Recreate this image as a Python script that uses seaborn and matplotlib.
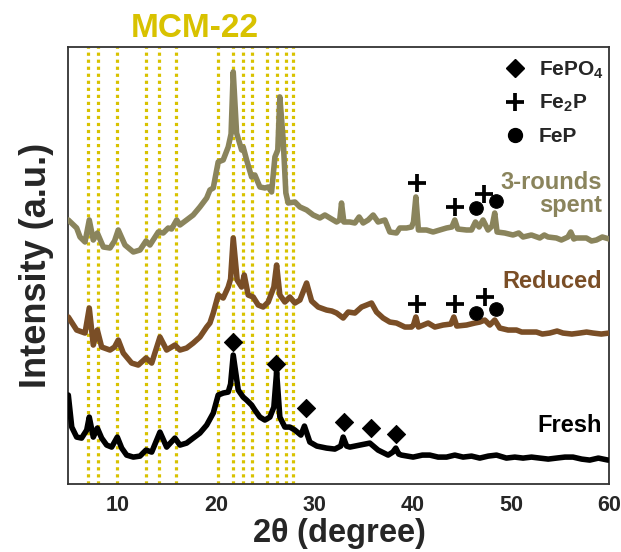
import matplotlib
matplotlib.use("Agg")
import matplotlib.pyplot as plt
from matplotlib.lines import Line2D
from matplotlib.ticker import FixedLocator
import seaborn as sns

# ---------------- data ----------------
mcm22_peaks = [7.03, 7.99, 9.98, 12.87, 14.19, 15.91, 20.21, 21.77,
               22.75, 23.67, 25.16, 26.24, 27.09, 27.87]

spent_2t = [5.0, 5.85, 6.19, 6.70, 7.13, 7.54, 7.95, 8.56, 9.24, 9.7, 10.08, 10.76, 11.61,
            12.29, 12.90, 13.30, 14.15, 14.65, 15.16, 15.5, 16.02, 16.35, 17.03, 17.70, 18.38,
            19.07, 19.40, 19.74, 20.24, 20.75, 21.26, 21.55, 21.77, 22.11, 22.62, 22.78,
            23.13, 23.64, 23.97, 24.48, 24.99, 25.33, 25.67, 26.01, 26.30, 26.51, 26.85,
            27.12, 27.36, 28.04, 28.55, 29.23, 29.90, 30.58, 31.09, 31.60, 32.28, 32.6,
            32.78, 33.02, 33.63, 34.14, 34.57, 34.98, 35.49, 36.0, 36.50, 37.19, 37.69,
            38.37, 38.71, 39.39, 39.90, 40.1, 40.34, 40.6, 41.42, 42.09, 42.77, 43.46,
            44.0, 44.30, 44.6, 45.49, 46.0, 46.40, 46.77, 47.17, 47.68, 48.1, 48.36, 48.6,
            49.38, 50.22, 50.8, 51.24, 52.09, 52.94, 53.4, 53.78, 54.63, 55.14, 55.8,
            56.09, 56.4, 56.67, 57.68, 58.2, 58.70, 59.3, 60.0]
spent_int = [264, 256, 247, 242, 264, 244, 251, 237, 236, 243, 254, 239, 232,
             234, 243, 239, 252, 251, 256, 255, 264, 259, 264, 269, 277,
             286, 294, 296, 322, 324, 337, 350, 412, 351, 334, 337,
             324, 307, 309, 297, 296, 297, 292, 327, 334, 387, 344,
             291, 281, 282, 277, 274, 269, 266, 269, 266, 262, 264,
             281, 262, 262, 261, 267, 261, 264, 269, 262, 264, 252,
             251, 256, 256, 257, 262, 287, 254, 254, 252, 254, 256,
             257, 264, 255, 254, 254, 262, 257, 264, 254, 258, 271, 252,
             251, 249, 251, 247, 249, 246, 249, 247, 246, 244, 247,
             252, 245, 246, 246, 243, 244, 247, 245]

reduced_2t = [5.0, 5.85, 6.70, 7.13, 7.54, 7.95, 8.39, 9.24, 9.7, 10.08, 10.59, 11.44, 12.11,
              12.90, 13.48, 14.32, 15.0, 15.84, 16.35, 17.03, 17.70, 18.38, 19.07, 19.40,
              19.74, 20.24, 20.75, 21.26, 21.5, 21.77, 22.17, 22.62, 22.89, 23.29, 23.80,
              24.31, 24.82, 25.33, 25.90, 26.18, 26.51, 27.02, 27.53, 28.04, 28.55, 29.23,
              29.74, 30.41, 31.26, 31.8, 32.28, 32.95, 33.46, 34.14, 34.82, 35.33, 35.83,
              36.34, 37.01, 37.69, 38.37, 38.8, 39.22, 39.90, 40.1, 40.34, 40.6, 41.59,
              42.27, 43.11, 43.9, 44.20, 44.5, 45.49, 46.33, 46.84, 47.35, 47.86, 48.36,
              48.87, 49.72, 50.57, 51.1, 51.59, 52.60, 53.2, 53.95, 54.7, 55.30, 56.2,
              57.0, 57.7, 58.35, 59.2, 60.0]
reduced_int = [167, 154, 151, 176, 139, 154, 137, 134, 137, 144, 131, 121, 119,
               126, 121, 147, 134, 139, 134, 136, 141, 147, 157, 161,
               171, 189, 186, 197, 205, 246, 204, 197, 209, 189, 187,
               179, 177, 182, 197, 219, 189, 182, 187, 181, 184, 201,
               183, 177, 174, 173, 171, 166, 172, 171, 177, 179, 181,
               172, 166, 162, 161, 159, 157, 157, 159, 167, 157, 161,
               157, 159, 160, 167, 158, 159, 161, 162, 164, 159, 164,
               156, 154, 154, 152, 152, 152, 150, 151, 153, 151, 150,
               151, 152, 151, 150, 151]

fresh_2t = [5.0, 5.35, 5.85, 6.35, 6.87, 7.13, 7.54, 7.95, 8.39, 8.90, 9.41, 9.98, 10.43,
            10.93, 11.61, 12.29, 12.90, 13.48, 14.32, 15.0, 15.84, 16.35, 17.03, 17.70,
            18.38, 19.07, 19.74, 20.24, 20.75, 21.26, 21.5, 21.77, 22.28, 22.78, 23.13,
            23.64, 23.97, 24.48, 24.99, 25.50, 25.90, 26.18, 26.51, 27.02, 27.53, 28.04,
            28.65, 29.01, 29.56, 30.27, 31.26, 32.10, 32.7, 32.95, 33.3, 33.63, 34.64,
            35.66, 36.50, 37.52, 38.0, 38.30, 38.6, 38.88, 40.06, 41.0, 41.76, 42.6,
            43.46, 44.3, 45.14, 46.0, 46.84, 47.7, 48.54, 49.55, 50.4, 51.24, 52.1,
            52.94, 53.8, 54.63, 55.5, 56.32, 57.2, 58.02, 58.9, 59.88]
fresh_int = [89, 57, 47, 46, 54, 67, 47, 56, 46, 39, 37, 47, 36,
             29, 27, 28, 34, 32, 52, 37, 46, 39, 41, 46,
             51, 59, 71, 89, 91, 92, 100, 129, 94, 87, 84,
             79, 74, 67, 64, 67, 77, 112, 67, 57, 57, 54,
             49, 58, 42, 38, 36, 35, 38, 47, 38, 37, 39,
             41, 34, 29, 32, 36, 30, 29, 27, 29, 29, 27,
             27, 29, 27, 28, 26, 28, 29, 26, 27, 26, 27,
             26, 25, 26, 27, 27, 25, 24, 26, 24]

fepo4_2t = [21.77, 26.11, 29.16, 33.07, 35.81, 38.30]
fepo4_int = [142, 120, 76, 62, 56, 50]
fe2p_2t = [40.41, 44.30, 47.25, 40.41, 44.30, 47.35]
fe2p_int = [301, 277, 290, 180, 180, 187]
fep_2t = [46.50, 48.47, 46.50, 48.54]
fep_int = [276, 283, 171, 175]

sample_names = ["3-rounds\nspent", "Reduced", "Fresh"]
label_pos_2t = [59.3, 59.3, 59.3]
label_pos_int = [290, 203, 59]
legend_labels = [r"FePO$_4$", r"Fe$_2$P", r"FeP"]
x_ticks = [10, 20, 30, 40, 50, 60]

# ---------------- style ----------------
sns.set_style("white")
plt.rcParams["font.family"] = ["Liberation Sans", "DejaVu Sans"]
plt.rcParams["font.weight"] = "bold"
plt.rcParams["mathtext.fontset"] = "custom"
plt.rcParams["mathtext.rm"] = "Liberation Sans:bold"
plt.rcParams["mathtext.it"] = "Liberation Sans:bold"
plt.rcParams["mathtext.bf"] = "Liberation Sans:bold"

c_spent = "#8A845C"
c_red = "#7A4E26"
c_fresh = "#000000"
c_gold = "#D8C200"

fig = plt.figure(figsize=(6.21, 5.52), dpi=100)
ax = fig.add_axes([0.110, 0.123, 0.871, 0.792])

for p in mcm22_peaks:
    ax.axvline(p, color=c_gold, lw=2.3, linestyle=(0, (1, 1.2)), zorder=1)

lw = 4.0
for xs, ys, col in [(spent_2t, spent_int, c_spent), (reduced_2t, reduced_int, c_red),
                    (fresh_2t, fresh_int, c_fresh)]:
    sns.lineplot(x=xs, y=ys, color=col, lw=lw, ax=ax, estimator=None, sort=False, zorder=3,
                 solid_joinstyle="round", solid_capstyle="round")

sns.scatterplot(x=fepo4_2t, y=fepo4_int, marker="D", s=85, color="k", edgecolor="k", ax=ax, zorder=4)
ax.scatter(fe2p_2t, fe2p_int, marker="+", s=160, color="k", linewidths=2.7, zorder=4)
sns.scatterplot(x=fep_2t, y=fep_int, marker="o", s=95, color="k", edgecolor="k", ax=ax, zorder=4)

for name, xx, yy, col in zip(sample_names, label_pos_2t, label_pos_int, [c_spent, c_red, c_fresh]):
    ax.text(xx, yy, name, color=col, fontsize=17, fontweight="bold", ha="right", va="center",
            linespacing=1.05)

handles = [Line2D([], [], marker="D", ls="", color="k", ms=9),
           Line2D([], [], marker="+", ls="", color="k", ms=13, mew=2.7),
           Line2D([], [], marker="o", ls="", color="k", ms=10)]
leg = ax.legend(handles, legend_labels, loc="upper left", bbox_to_anchor=(0.775, 1.005),
                frameon=False, fontsize=15, labelspacing=0.6, handlelength=1.2,
                handletextpad=0.55, borderaxespad=0.3)
for t in leg.get_texts():
    t.set_fontweight("bold")

ax.set_xlim(5, 60)
ax.set_ylim(0, 437)
ax.set_yticks([])
ax.xaxis.set_major_locator(FixedLocator(x_ticks))
ax.xaxis.set_minor_locator(FixedLocator([5, 15, 25, 35, 45, 55]))
ax.tick_params(axis="x", which="major", length=0, pad=8, labelsize=15.5)
ax.tick_params(axis="x", which="minor", length=6, width=1.3, direction="out", color="#333333")
for lab in ax.get_xticklabels():
    lab.set_fontweight("bold")

for s in ax.spines.values():
    s.set_color("#333333")
    s.set_linewidth(1.3)

ax.set_xlabel(r"2$\theta$ (degree)", fontsize=23.5, fontweight="bold", labelpad=0)
ax.set_ylabel("Intensity (a.u.)", fontsize=26, fontweight="bold", labelpad=10)
fig.text(0.313, 0.948, "MCM-22", color=c_gold, fontsize=24, fontweight="bold", ha="center", va="center")

fig.savefig("out.png", dpi=100)
